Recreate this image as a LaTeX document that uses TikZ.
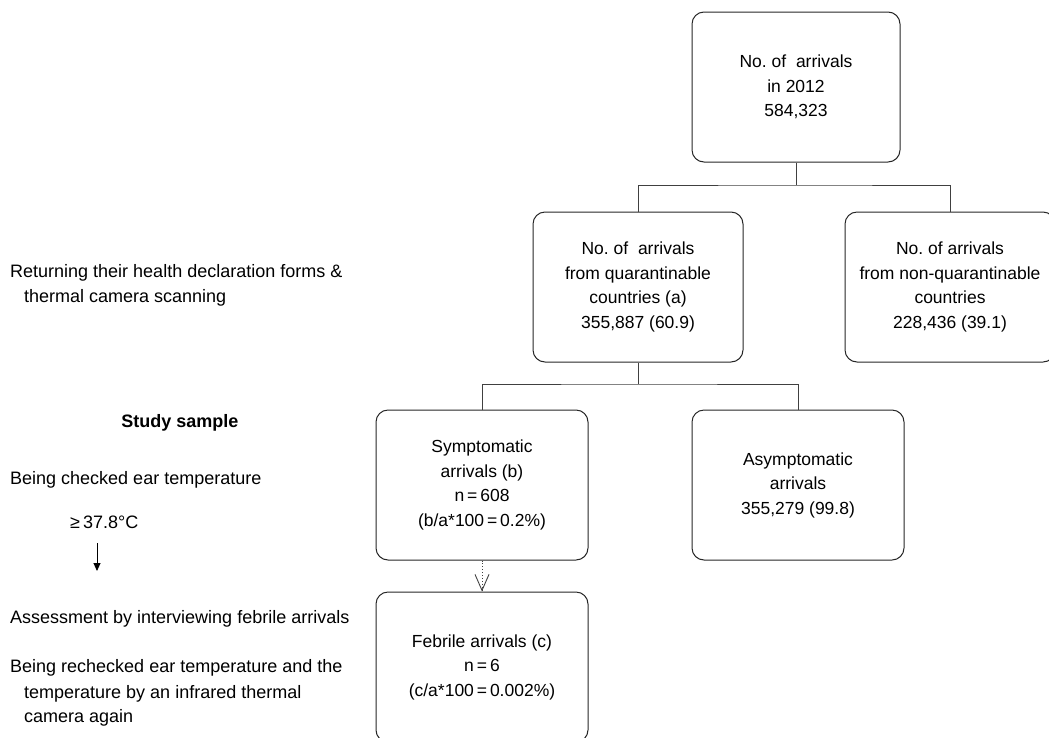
\documentclass[tikz,border=0pt]{standalone}
\usepackage{fontspec}
\setmainfont{Liberation Sans}
\usetikzlibrary{arrows.meta}
\newcommand\fs{\fontsize{17.5}{24.5}\selectfont}
\newcommand\lfs{\fontsize{18}{24.5}\selectfont}
\begin{document}
\begin{tikzpicture}[x=1pt,y=-1pt,
  box/.style={draw=black!85, rounded corners=12pt, line width=1pt, align=center, font=\fs,
    minimum width=210pt, minimum height=150pt, inner sep=0pt},
  lbl/.style={anchor=base west, font=\lfs, inner sep=0pt},
  conn/.style={draw=black!75, line width=0.9pt}]
\useasboundingbox (0,0) rectangle (1049,737);
\clip (0,0) rectangle (1049,737);

% boxes
\node[box, minimum width=208pt] (top) at (796,87) {No.\ of\ \ arrivals\\in 2012\\584,323};
\node[box] (quar) at (638,287) {No.\ of\ \ arrivals\\from quarantinable\\countries (a)\\355,887 (60.9)};
\node[box] (nonq) at (950,287) {No.\ of arrivals\\from non-quarantinable\\countries\\228,436 (39.1)};
\node[box, minimum width=212pt] (sym) at (482,485) {Symptomatic\\arrivals (b)\\n\,=\,608\\(b/a*100\,=\,0.2\%)};
\node[box, minimum width=212pt] (asym) at (798,485) {Asymptomatic\\arrivals\\355,279 (99.8)};
\node[box, minimum width=212pt] (feb) at (482,667) {Febrile arrivals (c)\\n\,=\,6\\(c/a*100\,=\,0.002\%)};

% connectors
\coordinate (j1) at (796,185);
\coordinate (j2) at (638,384);
\draw[conn] (top.south) -- (j1);
\draw[conn] (quar.north) |- (j1) -| (nonq.north);
\draw[conn] (quar.south) -- (j2);
\draw[conn] (sym.north) |- (j2) -| (asym.north);
\draw[conn, dotted, -{Straight Barb[length=16pt,width=14pt,line width=0.9pt]}] (sym.south) -- (feb.north);

% left labels
\node[lbl] (l1) at (10,277) {Returning their health declaration forms \&};
\node[lbl] (l2) at (24,302) {thermal camera scanning};
\node[lbl, anchor=base, font=\lfs\bfseries] (l3) at (180,427) {Study sample};
\node[lbl] (l4) at (10,484) {Being checked ear temperature};
\node[lbl] (l5) at (70,528) {≥\,37.8°C};
\coordinate (a1) at (97,543);
\coordinate (a2) at (97,571);
\draw[conn, draw=black, -{Triangle[length=8pt,width=7pt]}] (a1) -- (a2);
\node[lbl] (l6) at (10,623) {Assessment by interviewing febrile arrivals};
\node[lbl] (l7) at (10,672) {Being rechecked ear temperature and the};
\node[lbl] (l8) at (24,698) {temperature by an infrared thermal};
\node[lbl] (l9) at (24,722) {camera again};
\end{tikzpicture}
\end{document}
